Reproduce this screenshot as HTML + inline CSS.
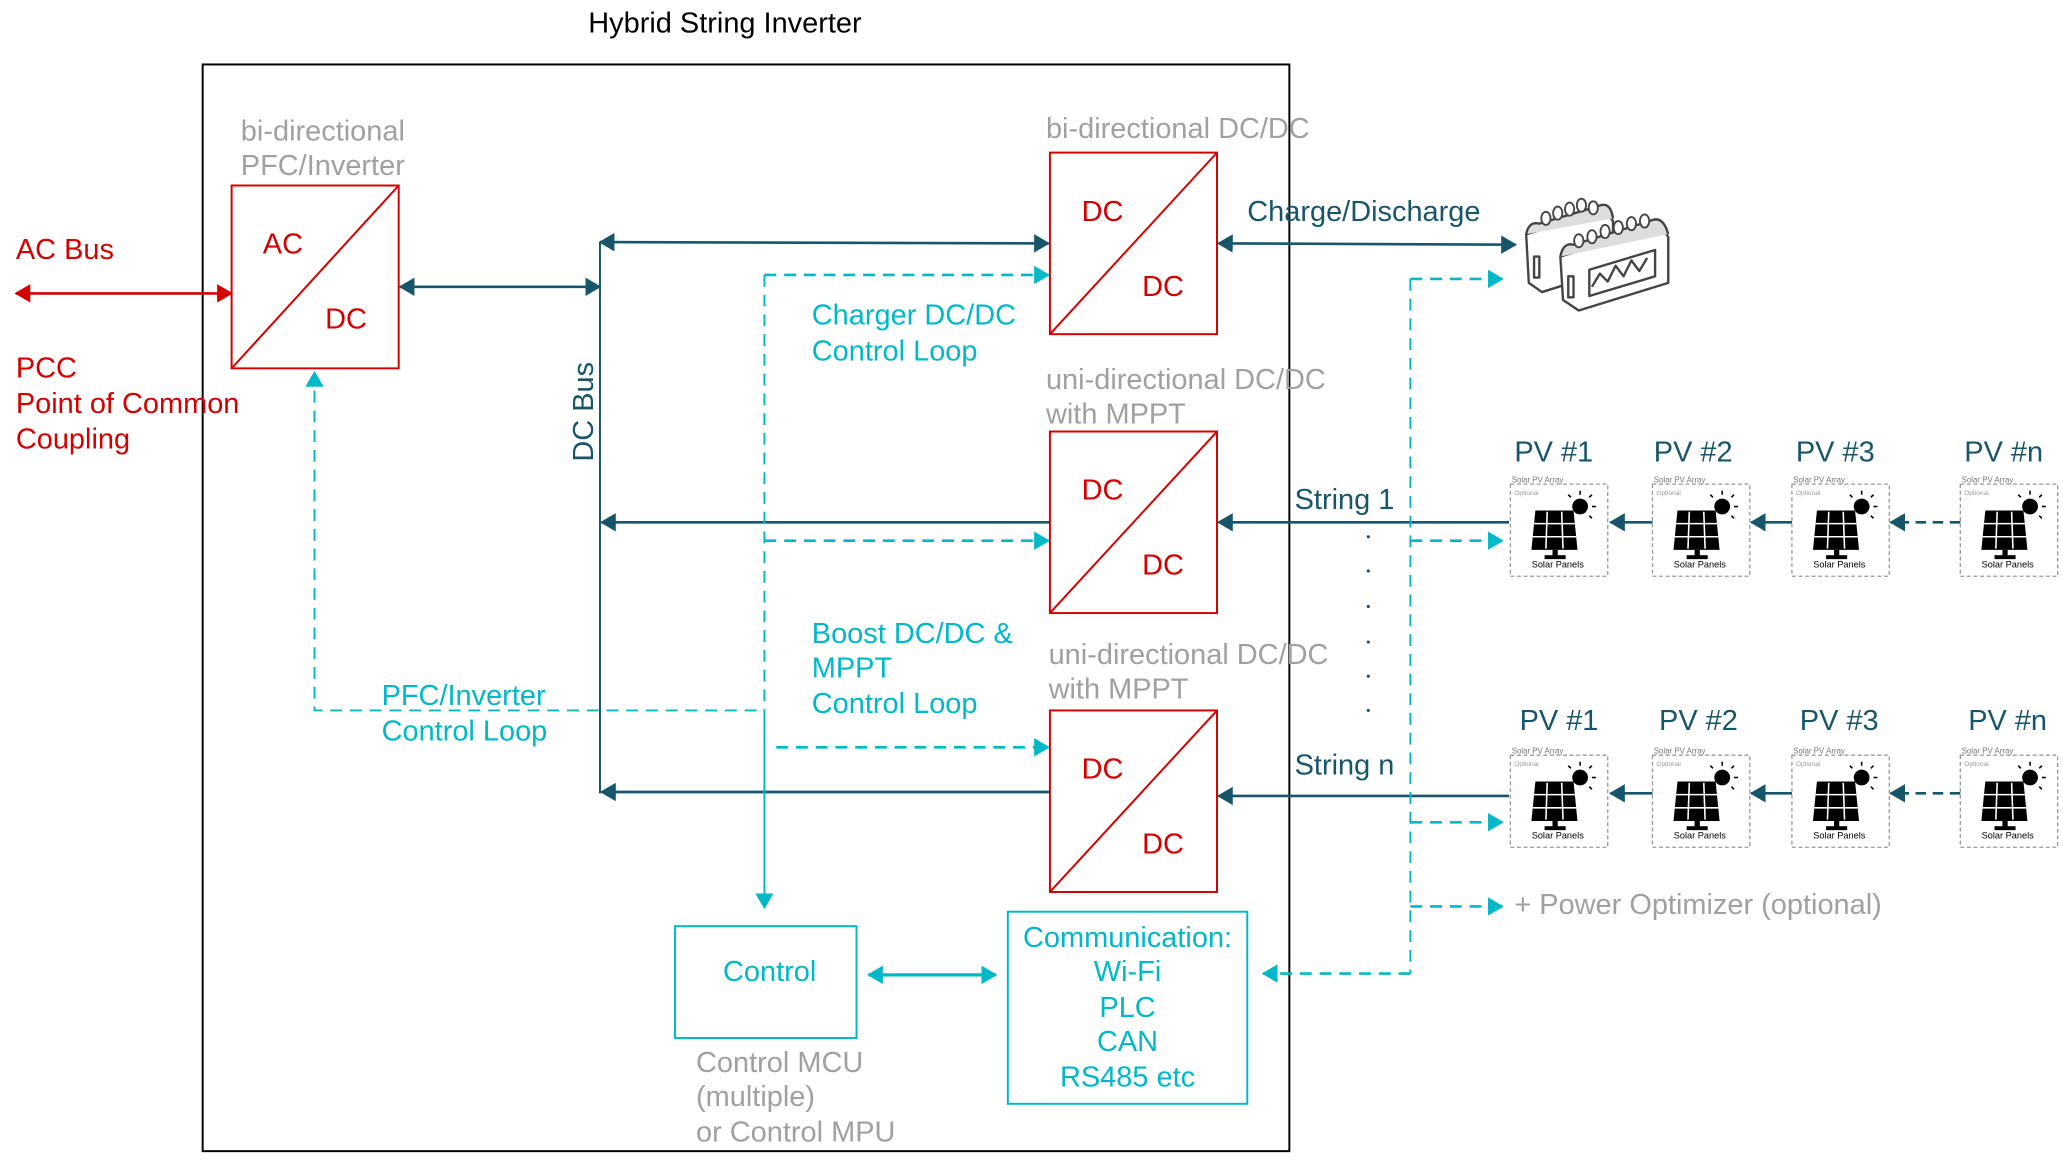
<!DOCTYPE html>
<html><head><meta charset="utf-8"><style>
html,body{margin:0;padding:0;background:#fff;}
svg{display:block;}
text{font-family:"Liberation Sans",sans-serif;dominant-baseline:central;}
</style></head><body>
<svg width="2063" height="1163" viewBox="0 0 1568 884" xmlns="http://www.w3.org/2000/svg">
<defs>
<marker id="ar" markerWidth="12" markerHeight="14" refX="11" refY="7" orient="auto-start-reverse" markerUnits="userSpaceOnUse"><path d="M0,0 L12,7 L0,14 z" fill="#d40000"/></marker>
<marker id="ad" markerWidth="12" markerHeight="14" refX="11" refY="7" orient="auto-start-reverse" markerUnits="userSpaceOnUse"><path d="M0,0 L12,7 L0,14 z" fill="#17566a"/></marker>
<marker id="ac" markerWidth="12" markerHeight="14" refX="11" refY="7" orient="auto-start-reverse" markerUnits="userSpaceOnUse"><path d="M0,0 L12,7 L0,14 z" fill="#00b8c8"/></marker>
</defs>

<text x="551" y="18" font-size="22" text-anchor="middle" fill="#000">Hybrid String Inverter</text>
<rect x="154" y="49" width="826" height="826" fill="none" stroke="#000" stroke-width="1.5"/>

<text x="183" y="100" font-size="22" fill="#a0a0a0">bi-directional</text>
<text x="183" y="126" font-size="22" fill="#a0a0a0">PFC/Inverter</text>
<rect x="176" y="141" width="127" height="139" fill="none" stroke="#d40000" stroke-width="1.5"/>
<line x1="176" y1="280" x2="303" y2="141" stroke="#d40000" stroke-width="1.5"/>
<text x="215" y="186" font-size="22" text-anchor="middle" fill="#d40000">AC</text>
<text x="263" y="243" font-size="22" text-anchor="middle" fill="#d40000">DC</text>

<text x="12" y="190" font-size="22" fill="#d40000">AC Bus</text>
<line x1="12" y1="223" x2="176" y2="223" stroke="#d40000" stroke-width="2" marker-start="url(#ar)" marker-end="url(#ar)"/>
<text x="12" y="280" font-size="22" fill="#d40000">PCC</text>
<text x="12" y="307" font-size="22" fill="#d40000">Point of Common</text>
<text x="12" y="334" font-size="22" fill="#d40000">Coupling</text>

<line x1="304" y1="218" x2="456" y2="218" stroke="#17566a" stroke-width="2" marker-start="url(#ad)" marker-end="url(#ad)"/>
<line x1="456" y1="184" x2="456" y2="603" stroke="#17566a" stroke-width="1.5"/>
<text transform="translate(444,313) rotate(-90)" font-size="22" text-anchor="middle" fill="#17566a">DC Bus</text>
<line x1="456" y1="184" x2="797" y2="185" stroke="#17566a" stroke-width="2" marker-start="url(#ad)" marker-end="url(#ad)"/>
<line x1="798" y1="397" x2="457" y2="397" stroke="#17566a" stroke-width="2" marker-end="url(#ad)"/>
<line x1="798" y1="602" x2="457" y2="602" stroke="#17566a" stroke-width="2" marker-end="url(#ad)"/>

<text x="795" y="98" font-size="22" fill="#a0a0a0">bi-directional DC/DC</text>
<rect x="798" y="116" width="127" height="138" fill="none" stroke="#d40000" stroke-width="1.5"/>
<line x1="798" y1="254" x2="925" y2="116" stroke="#d40000" stroke-width="1.5"/>
<text x="838" y="161" font-size="22" text-anchor="middle" fill="#d40000">DC</text>
<text x="884" y="218" font-size="22" text-anchor="middle" fill="#d40000">DC</text>

<text x="795" y="289" font-size="22" fill="#a0a0a0">uni-directional DC/DC</text>
<text x="795" y="315" font-size="22" fill="#a0a0a0">with MPPT</text>
<rect x="798" y="328" width="127" height="138" fill="none" stroke="#d40000" stroke-width="1.5"/>
<line x1="798" y1="466" x2="925" y2="328" stroke="#d40000" stroke-width="1.5"/>
<text x="838" y="373" font-size="22" text-anchor="middle" fill="#d40000">DC</text>
<text x="884" y="430" font-size="22" text-anchor="middle" fill="#d40000">DC</text>

<text x="797" y="498" font-size="22" fill="#a0a0a0">uni-directional DC/DC</text>
<text x="797" y="524" font-size="22" fill="#a0a0a0">with MPPT</text>
<rect x="798" y="540" width="127" height="138" fill="none" stroke="#d40000" stroke-width="1.5"/>
<line x1="798" y1="678" x2="925" y2="540" stroke="#d40000" stroke-width="1.5"/>
<text x="838" y="585" font-size="22" text-anchor="middle" fill="#d40000">DC</text>
<text x="884" y="642" font-size="22" text-anchor="middle" fill="#d40000">DC</text>

<text x="948" y="161" font-size="22" fill="#17566a">Charge/Discharge</text>
<line x1="926" y1="185" x2="1152" y2="186" stroke="#17566a" stroke-width="2" marker-start="url(#ad)" marker-end="url(#ad)"/>
<text x="984" y="380" font-size="22" fill="#17566a">String 1</text>
<line x1="1147" y1="397" x2="926" y2="397" stroke="#17566a" stroke-width="2" marker-end="url(#ad)"/>
<text x="984" y="582" font-size="22" fill="#17566a">String n</text>
<line x1="1147" y1="605" x2="926" y2="605" stroke="#17566a" stroke-width="2" marker-end="url(#ad)"/>
<g fill="#17566a">
<circle cx="1040" cy="408" r="1.2"/><circle cx="1040" cy="434" r="1.2"/><circle cx="1040" cy="461" r="1.2"/><circle cx="1040" cy="488" r="1.2"/><circle cx="1040" cy="514" r="1.2"/><circle cx="1040" cy="540" r="1.2"/>
</g>

<g stroke="#00b8c8" stroke-width="1.5" fill="none">
<path d="M581 209 V540" stroke-dasharray="9 6"/>
<path d="M581 540 V690" marker-end="url(#ac)"/>
<path d="M581 209 H797" stroke-dasharray="9 6" stroke-width="2" marker-end="url(#ac)"/>
<path d="M581 411 H797" stroke-dasharray="9 6" stroke-width="2" marker-end="url(#ac)"/>
<path d="M590 568 H797" stroke-dasharray="9 6" stroke-width="2" marker-end="url(#ac)"/>
<path d="M575 540 H239 V283" stroke-dasharray="9 6" marker-end="url(#ac)"/>
<path d="M1072 212 V740" stroke-dasharray="9 6"/>
<path d="M1072 212 H1142" stroke-dasharray="9 6" stroke-width="2" marker-end="url(#ac)"/>
<path d="M1072 411 H1142" stroke-dasharray="9 6" stroke-width="2" marker-end="url(#ac)"/>
<path d="M1072 625 H1142" stroke-dasharray="9 6" stroke-width="2" marker-end="url(#ac)"/>
<path d="M1072 689 H1142" stroke-dasharray="9 6" stroke-width="2" marker-end="url(#ac)"/>
<path d="M1072 740 H960" stroke-dasharray="9 6" stroke-width="2" marker-end="url(#ac)"/>
<path d="M660 741 H757" stroke-width="2.5" marker-start="url(#ac)" marker-end="url(#ac)"/>
<rect x="513" y="704" width="138" height="85"/>
<rect x="766" y="693" width="182" height="146"/>
</g>
<g font-size="22" fill="#00b8c8">
<text x="617" y="240">Charger DC/DC</text>
<text x="617" y="267">Control Loop</text>
<text x="617" y="482">Boost DC/DC &amp;</text>
<text x="617" y="508">MPPT</text>
<text x="617" y="535">Control Loop</text>
<text x="290" y="529">PFC/Inverter</text>
<text x="290" y="556">Control Loop</text>
<text x="585" y="739" text-anchor="middle">Control</text>
<text x="857" y="713" text-anchor="middle">Communication:</text>
<text x="857" y="739" text-anchor="middle">Wi-Fi</text>
<text x="857" y="766" text-anchor="middle">PLC</text>
<text x="857" y="792" text-anchor="middle">CAN</text>
<text x="857" y="819" text-anchor="middle">RS485 etc</text>
</g>
<g font-size="22" fill="#a0a0a0">
<text x="529" y="808">Control MCU</text>
<text x="529" y="834">(multiple)</text>
<text x="529" y="861">or Control MPU</text>
<text x="1151" y="688">+ Power Optimizer (optional)</text>
</g>

<g stroke="#444" stroke-width="1.8" fill="#fff" stroke-linejoin="round">
<path d="M1160 178 L1220 160 L1226 168 L1226 205 L1172 222 L1162 215 Z"/>
<path d="M1160 178 Q1162 168 1170 170 L1214 157 Q1224 152 1226 166" fill="#ddd"/>
<path d="M1186 195 L1262 172 L1268 180 L1268 215 L1200 236 L1188 228 Z"/>
<path d="M1186 195 Q1188 184 1196 186 L1254 168 Q1264 163 1268 178" fill="#ddd"/>
<path d="M1208 205 L1258 190 L1258 210 L1208 225 Z"/>
<path d="M1210 218 L1216 208 L1222 214 L1228 202 L1234 210 L1240 198 L1246 206 L1252 196" fill="none"/>
<rect x="1166" y="195" width="4" height="16"/><rect x="1192" y="210" width="4" height="16"/>
</g>
<g fill="#fff" stroke="#444" stroke-width="1.4">
<ellipse cx="1175" cy="166" rx="3.5" ry="5"/><ellipse cx="1184" cy="162" rx="3.5" ry="5"/><ellipse cx="1193" cy="159" rx="3.5" ry="5"/><ellipse cx="1202" cy="156" rx="3.5" ry="5"/><ellipse cx="1211" cy="158" rx="3.5" ry="5"/>
<ellipse cx="1200" cy="183" rx="3.5" ry="5"/><ellipse cx="1210" cy="180" rx="3.5" ry="5"/><ellipse cx="1220" cy="176" rx="3.5" ry="5"/><ellipse cx="1230" cy="173" rx="3.5" ry="5"/><ellipse cx="1240" cy="170" rx="3.5" ry="5"/><ellipse cx="1250" cy="168" rx="3.5" ry="5"/>
</g>

<g font-size="22" fill="#17566a">
<text x="1151" y="344">PV #1</text><text x="1257" y="344">PV #2</text><text x="1365" y="344">PV #3</text><text x="1493" y="344">PV #n</text>
<text x="1155" y="548">PV #1</text><text x="1261" y="548">PV #2</text><text x="1368" y="548">PV #3</text><text x="1496" y="548">PV #n</text>
</g>
<g stroke="#17566a" stroke-width="2">
<line x1="1256" y1="397" x2="1224" y2="397" marker-end="url(#ad)"/>
<line x1="1362" y1="397" x2="1331" y2="397" marker-end="url(#ad)"/>
<line x1="1490" y1="397" x2="1437" y2="397" stroke-dasharray="8 5" marker-end="url(#ad)"/>
<line x1="1256" y1="603" x2="1224" y2="603" marker-end="url(#ad)"/>
<line x1="1362" y1="603" x2="1331" y2="603" marker-end="url(#ad)"/>
<line x1="1490" y1="603" x2="1437" y2="603" stroke-dasharray="8 5" marker-end="url(#ad)"/>
</g>

<g transform="translate(1148,368)">
<rect x="0" y="0" width="74" height="70" fill="none" stroke="#999" stroke-dasharray="3 2"/>
<text x="1" y="-3" font-size="6" fill="#777">Solar PV Array</text>
<text x="3" y="7" font-size="5" fill="#999">Optional</text>
<path d="M19 20 L48 20 L51 50 L16 50 Z" fill="#000"/>
<g stroke="#fff" stroke-width="1.2"><line x1="18" y1="30" x2="49" y2="30"/><line x1="17" y1="40" x2="50" y2="40"/><line x1="28" y1="21" x2="27" y2="49"/><line x1="39" y1="21" x2="40" y2="49"/></g>
<rect x="32" y="50" width="4" height="5" fill="#000"/><rect x="26" y="54" width="16" height="3" fill="#000"/>
<circle cx="53" cy="17" r="6" fill="#000"/>
<g stroke="#000" stroke-width="1.2"><line x1="53" y1="5" x2="53" y2="8"/><line x1="62" y1="8" x2="60" y2="10"/><line x1="65" y1="17" x2="62" y2="17"/><line x1="62" y1="26" x2="60" y2="24"/><line x1="44" y1="8" x2="46" y2="10"/></g>
<text x="36" y="61" font-size="7" text-anchor="middle" fill="#000">Solar Panels</text>
</g>
<g transform="translate(1256,368)">
<rect x="0" y="0" width="74" height="70" fill="none" stroke="#999" stroke-dasharray="3 2"/>
<text x="1" y="-3" font-size="6" fill="#777">Solar PV Array</text>
<text x="3" y="7" font-size="5" fill="#999">Optional</text>
<path d="M19 20 L48 20 L51 50 L16 50 Z" fill="#000"/>
<g stroke="#fff" stroke-width="1.2"><line x1="18" y1="30" x2="49" y2="30"/><line x1="17" y1="40" x2="50" y2="40"/><line x1="28" y1="21" x2="27" y2="49"/><line x1="39" y1="21" x2="40" y2="49"/></g>
<rect x="32" y="50" width="4" height="5" fill="#000"/><rect x="26" y="54" width="16" height="3" fill="#000"/>
<circle cx="53" cy="17" r="6" fill="#000"/>
<g stroke="#000" stroke-width="1.2"><line x1="53" y1="5" x2="53" y2="8"/><line x1="62" y1="8" x2="60" y2="10"/><line x1="65" y1="17" x2="62" y2="17"/><line x1="62" y1="26" x2="60" y2="24"/><line x1="44" y1="8" x2="46" y2="10"/></g>
<text x="36" y="61" font-size="7" text-anchor="middle" fill="#000">Solar Panels</text>
</g>
<g transform="translate(1362,368)">
<rect x="0" y="0" width="74" height="70" fill="none" stroke="#999" stroke-dasharray="3 2"/>
<text x="1" y="-3" font-size="6" fill="#777">Solar PV Array</text>
<text x="3" y="7" font-size="5" fill="#999">Optional</text>
<path d="M19 20 L48 20 L51 50 L16 50 Z" fill="#000"/>
<g stroke="#fff" stroke-width="1.2"><line x1="18" y1="30" x2="49" y2="30"/><line x1="17" y1="40" x2="50" y2="40"/><line x1="28" y1="21" x2="27" y2="49"/><line x1="39" y1="21" x2="40" y2="49"/></g>
<rect x="32" y="50" width="4" height="5" fill="#000"/><rect x="26" y="54" width="16" height="3" fill="#000"/>
<circle cx="53" cy="17" r="6" fill="#000"/>
<g stroke="#000" stroke-width="1.2"><line x1="53" y1="5" x2="53" y2="8"/><line x1="62" y1="8" x2="60" y2="10"/><line x1="65" y1="17" x2="62" y2="17"/><line x1="62" y1="26" x2="60" y2="24"/><line x1="44" y1="8" x2="46" y2="10"/></g>
<text x="36" y="61" font-size="7" text-anchor="middle" fill="#000">Solar Panels</text>
</g>
<g transform="translate(1490,368)">
<rect x="0" y="0" width="74" height="70" fill="none" stroke="#999" stroke-dasharray="3 2"/>
<text x="1" y="-3" font-size="6" fill="#777">Solar PV Array</text>
<text x="3" y="7" font-size="5" fill="#999">Optional</text>
<path d="M19 20 L48 20 L51 50 L16 50 Z" fill="#000"/>
<g stroke="#fff" stroke-width="1.2"><line x1="18" y1="30" x2="49" y2="30"/><line x1="17" y1="40" x2="50" y2="40"/><line x1="28" y1="21" x2="27" y2="49"/><line x1="39" y1="21" x2="40" y2="49"/></g>
<rect x="32" y="50" width="4" height="5" fill="#000"/><rect x="26" y="54" width="16" height="3" fill="#000"/>
<circle cx="53" cy="17" r="6" fill="#000"/>
<g stroke="#000" stroke-width="1.2"><line x1="53" y1="5" x2="53" y2="8"/><line x1="62" y1="8" x2="60" y2="10"/><line x1="65" y1="17" x2="62" y2="17"/><line x1="62" y1="26" x2="60" y2="24"/><line x1="44" y1="8" x2="46" y2="10"/></g>
<text x="36" y="61" font-size="7" text-anchor="middle" fill="#000">Solar Panels</text>
</g>
<g transform="translate(1148,574)">
<rect x="0" y="0" width="74" height="70" fill="none" stroke="#999" stroke-dasharray="3 2"/>
<text x="1" y="-3" font-size="6" fill="#777">Solar PV Array</text>
<text x="3" y="7" font-size="5" fill="#999">Optional</text>
<path d="M19 20 L48 20 L51 50 L16 50 Z" fill="#000"/>
<g stroke="#fff" stroke-width="1.2"><line x1="18" y1="30" x2="49" y2="30"/><line x1="17" y1="40" x2="50" y2="40"/><line x1="28" y1="21" x2="27" y2="49"/><line x1="39" y1="21" x2="40" y2="49"/></g>
<rect x="32" y="50" width="4" height="5" fill="#000"/><rect x="26" y="54" width="16" height="3" fill="#000"/>
<circle cx="53" cy="17" r="6" fill="#000"/>
<g stroke="#000" stroke-width="1.2"><line x1="53" y1="5" x2="53" y2="8"/><line x1="62" y1="8" x2="60" y2="10"/><line x1="65" y1="17" x2="62" y2="17"/><line x1="62" y1="26" x2="60" y2="24"/><line x1="44" y1="8" x2="46" y2="10"/></g>
<text x="36" y="61" font-size="7" text-anchor="middle" fill="#000">Solar Panels</text>
</g>
<g transform="translate(1256,574)">
<rect x="0" y="0" width="74" height="70" fill="none" stroke="#999" stroke-dasharray="3 2"/>
<text x="1" y="-3" font-size="6" fill="#777">Solar PV Array</text>
<text x="3" y="7" font-size="5" fill="#999">Optional</text>
<path d="M19 20 L48 20 L51 50 L16 50 Z" fill="#000"/>
<g stroke="#fff" stroke-width="1.2"><line x1="18" y1="30" x2="49" y2="30"/><line x1="17" y1="40" x2="50" y2="40"/><line x1="28" y1="21" x2="27" y2="49"/><line x1="39" y1="21" x2="40" y2="49"/></g>
<rect x="32" y="50" width="4" height="5" fill="#000"/><rect x="26" y="54" width="16" height="3" fill="#000"/>
<circle cx="53" cy="17" r="6" fill="#000"/>
<g stroke="#000" stroke-width="1.2"><line x1="53" y1="5" x2="53" y2="8"/><line x1="62" y1="8" x2="60" y2="10"/><line x1="65" y1="17" x2="62" y2="17"/><line x1="62" y1="26" x2="60" y2="24"/><line x1="44" y1="8" x2="46" y2="10"/></g>
<text x="36" y="61" font-size="7" text-anchor="middle" fill="#000">Solar Panels</text>
</g>
<g transform="translate(1362,574)">
<rect x="0" y="0" width="74" height="70" fill="none" stroke="#999" stroke-dasharray="3 2"/>
<text x="1" y="-3" font-size="6" fill="#777">Solar PV Array</text>
<text x="3" y="7" font-size="5" fill="#999">Optional</text>
<path d="M19 20 L48 20 L51 50 L16 50 Z" fill="#000"/>
<g stroke="#fff" stroke-width="1.2"><line x1="18" y1="30" x2="49" y2="30"/><line x1="17" y1="40" x2="50" y2="40"/><line x1="28" y1="21" x2="27" y2="49"/><line x1="39" y1="21" x2="40" y2="49"/></g>
<rect x="32" y="50" width="4" height="5" fill="#000"/><rect x="26" y="54" width="16" height="3" fill="#000"/>
<circle cx="53" cy="17" r="6" fill="#000"/>
<g stroke="#000" stroke-width="1.2"><line x1="53" y1="5" x2="53" y2="8"/><line x1="62" y1="8" x2="60" y2="10"/><line x1="65" y1="17" x2="62" y2="17"/><line x1="62" y1="26" x2="60" y2="24"/><line x1="44" y1="8" x2="46" y2="10"/></g>
<text x="36" y="61" font-size="7" text-anchor="middle" fill="#000">Solar Panels</text>
</g>
<g transform="translate(1490,574)">
<rect x="0" y="0" width="74" height="70" fill="none" stroke="#999" stroke-dasharray="3 2"/>
<text x="1" y="-3" font-size="6" fill="#777">Solar PV Array</text>
<text x="3" y="7" font-size="5" fill="#999">Optional</text>
<path d="M19 20 L48 20 L51 50 L16 50 Z" fill="#000"/>
<g stroke="#fff" stroke-width="1.2"><line x1="18" y1="30" x2="49" y2="30"/><line x1="17" y1="40" x2="50" y2="40"/><line x1="28" y1="21" x2="27" y2="49"/><line x1="39" y1="21" x2="40" y2="49"/></g>
<rect x="32" y="50" width="4" height="5" fill="#000"/><rect x="26" y="54" width="16" height="3" fill="#000"/>
<circle cx="53" cy="17" r="6" fill="#000"/>
<g stroke="#000" stroke-width="1.2"><line x1="53" y1="5" x2="53" y2="8"/><line x1="62" y1="8" x2="60" y2="10"/><line x1="65" y1="17" x2="62" y2="17"/><line x1="62" y1="26" x2="60" y2="24"/><line x1="44" y1="8" x2="46" y2="10"/></g>
<text x="36" y="61" font-size="7" text-anchor="middle" fill="#000">Solar Panels</text>
</g>
</svg>
</body></html>
